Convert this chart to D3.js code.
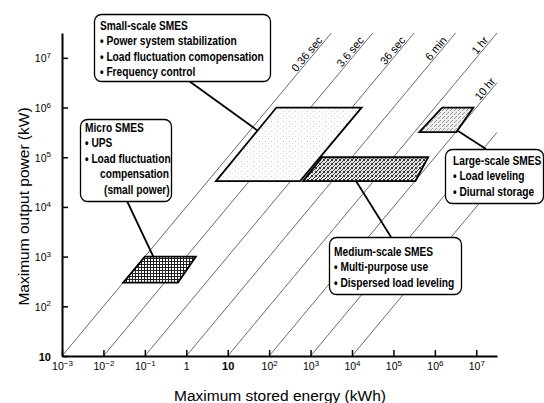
<!DOCTYPE html>
<html>
<head>
<meta charset="utf-8">
<script src="https://cdn.jsdelivr.net/npm/d3@7"></script>
<style>
  body { margin: 0; background: #fff; }
  svg { display: block; font-family: 'Liberation Sans', Arial, sans-serif; }
  .box-text { font-family: 'Liberation Sans', Arial, sans-serif; font-weight: bold; font-size: 12px; }
  .tick-label { font-size: 10.5px; }
</style>
</head>
<body>
<svg id="chart" width="544" height="403"></svg>
<script>
// axis ticks
const energyTicks = [1e-3, 1e-2, 1e-1, 1, 10, 1e2, 1e3, 1e4, 1e5, 1e6, 1e7];
const powerTicks = [10, 1e2, 1e3, 1e4, 1e5, 1e6, 1e7];

// constant discharge time lines (hours)
const dischargeHours = [1e-4, 1e-3, 1e-2, 1e-1, 1, 10, 100, 1000];
const dischargeLabels = ['0.36 sec', '3.6 sec', '36 sec', '6 min', '1 hr', '10 hr', '', ''];

// SMES application regions (kWh / kW corners)
const regionNames = ['micro', 'small', 'medium', 'large'];
const powerLow = [300, 3.3e4, 3.3e4, 3.2e5];
const powerHigh = [1e3, 1e6, 1e5, 1e6];
const energyBottomLeft = [0.03, 5.2, 660, 4.2e5];
const energyBottomRight = [0.63, 560, 3.4e5, 3.3e6];
const energyTopRight = [1.7, 1.7e4, 6.9e5, 8.5e6];
const energyTopLeft = [0.1, 150, 1900, 1.5e6];
const calloutEnergy = [0.16, 51, 1.26e4, 3.4e6];
const calloutPower = [1e3, 3.5e5, 3.3e4, 3.5e5];

const microText = ['Micro SMES', '\u2022 UPS', '\u2022 Load fluctuation', 'compensation', '(small power)'];
const smallText = ['Small-scale SMES', '\u2022 Power system stabilization', '\u2022 Load fluctuation comopensation', '\u2022 Frequency control'];
const mediumText = ['Medium-scale SMES', '\u2022 Multi-purpose use', '\u2022 Dispersed load leveling'];
const largeText = ['Large-scale SMES', '\u2022 Load leveling', '\u2022 Diurnal storage'];

const maxE = Math.pow(10, 7.5);
const maxP = Math.pow(10, 7.5);

const svg = d3.select('#chart');

const x = d3.scaleLog().domain([1e-3, maxE]).range([62, 497]);
const y = d3.scaleLog().domain([10, maxP]).range([356, 33]);

// fill patterns
const defs = svg.append('defs');

const grid = defs.append('pattern').attr('id', 'p-grid')
   .attr('patternUnits', 'userSpaceOnUse').attr('width', 3).attr('height', 3);
grid.append('rect').attr('width', 3).attr('height', 3).attr('fill', '#fff');
grid.append('path').attr('d', 'M0,0.5H3M0.5,0V3').attr('stroke', '#222').attr('stroke-width', 1);

const dense = defs.append('pattern').attr('id', 'p-dense')
   .attr('patternUnits', 'userSpaceOnUse').attr('width', 4).attr('height', 4);
dense.append('rect').attr('width', 4).attr('height', 4).attr('fill', '#e8e8e8');
[[0, 0], [2, 1], [1, 2], [3, 3], [3, 0], [0, 3]].forEach(p => {
   dense.append('rect').attr('x', p[0]).attr('y', p[1]).attr('width', 1).attr('height', 1).attr('fill', '#333');
});

const light = defs.append('pattern').attr('id', 'p-light')
   .attr('patternUnits', 'userSpaceOnUse').attr('width', 4).attr('height', 4);
light.append('rect').attr('width', 4).attr('height', 4).attr('fill', '#eee');
[[0, 0], [2, 2], [3, 1]].forEach(p => {
   light.append('rect').attr('x', p[0]).attr('y', p[1]).attr('width', 1).attr('height', 1).attr('fill', '#999');
});

const faint = defs.append('pattern').attr('id', 'p-faint')
   .attr('patternUnits', 'userSpaceOnUse').attr('width', 6).attr('height', 5);
faint.append('rect').attr('width', 6).attr('height', 5).attr('fill', '#fcfcfc');
faint.append('rect').attr('x', 1).attr('y', 1).attr('width', 1).attr('height', 1).attr('fill', '#ccc');
faint.append('rect').attr('x', 4).attr('y', 3).attr('width', 1).attr('height', 1).attr('fill', '#ddd');

const regionFill = { micro: 'url(#p-grid)', small: 'url(#p-faint)', medium: 'url(#p-dense)', large: 'url(#p-light)' };

// discharge time lines
const lines = dischargeHours.map((t, i) => {
   const e1 = Math.min(maxE, maxP * t);
   return { t: t, label: dischargeLabels[i], e0: 10 * t, p0: 10, e1: e1, p1: e1 / t };
});

svg.append('g')
   .selectAll('line')
   .data(lines)
   .enter()
   .append('line')
   .attr('x1', d => x(d.e0))
   .attr('y1', d => y(d.p0))
   .attr('x2', d => x(d.e1))
   .attr('y2', d => y(d.p1))
   .attr('stroke', '#444')
   .attr('stroke-width', 0.8);

const angle = Math.atan((y(10) - y(100)) / (x(10) - x(1))) * 180 / Math.PI;

svg.append('g')
   .selectAll('text')
   .data(lines.filter(d => d.label))
   .enter()
   .append('text')
   .attr('transform', d => {
       const p = Math.min(d.p1, Math.pow(10, 7.33));
       return `translate(${x(p * d.t)},${y(p)}) rotate(${-angle})`;
   })
   .attr('dy', -1.5)
   .attr('text-anchor', 'end')
   .attr('font-size', 11)
   .text(d => d.label);

// callout boxes
const boxLayout = {
   micro: { x: 80, y: 119, w: 91, h: 82, tx: 5, ty: 13, indent: [0, 0, 0, 15, 19], text: microText, end: [127, 201] },
   small: { x: 94, y: 14, w: 176, h: 67, tx: 6, ty: 16, indent: [0, 0, 0, 0], text: smallText, end: [189, 81] },
   medium: { x: 329, y: 237, w: 132, h: 57, tx: 5, ty: 19, indent: [0, 0, 0], text: mediumText, end: [391, 237] },
   large: { x: 445, y: 149, w: 98, h: 54, tx: 8, ty: 16, indent: [0, 0, 0], text: largeText, end: [486, 149] }
};

const regions = regionNames.map((name, i) => ({
   name: name,
   corners: [
       [x(energyBottomLeft[i]), y(powerLow[i])],
       [x(energyBottomRight[i]), y(powerLow[i])],
       [x(energyTopRight[i]), y(powerHigh[i])],
       [x(energyTopLeft[i]), y(powerHigh[i])]
   ],
   anchor: [x(calloutEnergy[i]), y(calloutPower[i])],
   box: boxLayout[name]
}));

svg.append('g')
   .selectAll('line')
   .data(regions)
   .enter()
   .append('line')
   .attr('x1', d => d.anchor[0])
   .attr('y1', d => d.anchor[1])
   .attr('x2', d => d.box.end[0])
   .attr('y2', d => d.box.end[1])
   .attr('stroke', '#000')
   .attr('stroke-width', 1.8);

svg.append('g')
   .selectAll('path')
   .data(regions)
   .enter()
   .append('path')
   .attr('d', d => d3.line().curve(d3.curveLinearClosed)(d.corners))
   .attr('fill', d => regionFill[d.name])
   .attr('stroke', '#000')
   .attr('stroke-width', 1.8)
   .attr('stroke-linejoin', 'miter');

const boxes = svg.append('g')
   .selectAll('g')
   .data(regions)
   .enter()
   .append('g')
   .attr('transform', d => `translate(${d.box.x},${d.box.y})`);

boxes.append('rect')
   .attr('x', 0.5)
   .attr('y', 0.5)
   .attr('width', d => d.box.w)
   .attr('height', d => d.box.h)
   .attr('rx', 7)
   .attr('fill', '#fff')
   .attr('stroke', '#000')
   .attr('stroke-width', 1.3);

// narrow bold look: squeeze the text horizontally
boxes.each(function(d) {
   d3.select(this)
     .selectAll('text')
     .data(d.box.text)
     .enter()
     .append('text')
     .attr('class', 'box-text')
     .attr('transform', (s, i) => `translate(${d.box.tx + d.box.indent[i]},${d.box.ty + i * 15.4}) scale(0.85,1)`)
     .text(s => s);
});

// axes
function tickText(sel, v) {
   const e = Math.round(Math.log10(v));
   if (e === 0) {
       sel.text('1');
   } else if (e === 1) {
       sel.append('tspan').attr('font-weight', 'bold').attr('font-size', 11).text('10');
   } else {
       sel.append('tspan').text('10');
       sel.append('tspan').attr('font-size', 8).attr('dy', -4.5).text(e < 0 ? '\u2212' + (-e) : e);
   }
}

const xAxis = d3.axisBottom(x)
                .tickValues(energyTicks)
                .tickSizeInner(-6)
                .tickSizeOuter(0)
                .tickFormat('');

const gx = svg.append('g')
   .attr('transform', `translate(0,${y(10)})`)
   .call(xAxis);
gx.select('.domain').attr('stroke-width', 2);
gx.selectAll('.tick line').attr('stroke-width', 1.5);
gx.selectAll('.tick').each(function(v) {
   const t = d3.select(this).append('text')
       .attr('class', 'tick-label')
       .attr('fill', '#000')
       .attr('y', 14)
       .attr('text-anchor', 'middle');
   tickText(t, v);
});

const yAxis = d3.axisLeft(y)
                .tickValues(powerTicks)
                .tickSizeInner(-6)
                .tickSizeOuter(0)
                .tickFormat('');

const gy = svg.append('g')
   .attr('transform', `translate(${x(1e-3)},0)`)
   .call(yAxis);
gy.select('.domain').attr('stroke-width', 2);
gy.selectAll('.tick line').attr('stroke-width', 1.5);
gy.selectAll('.tick').each(function(v) {
   const t = d3.select(this).append('text')
       .attr('class', 'tick-label')
       .attr('fill', '#000')
       .attr('x', -11)
       .attr('y', 4)
       .attr('text-anchor', 'end');
   tickText(t, v);
});

svg.append('text')
   .attr('x', 280)
   .attr('y', 401)
   .attr('text-anchor', 'middle')
   .attr('font-size', 15.5)
   .text('Maximum stored energy (kWh)');

svg.append('text')
   .attr('transform', `translate(29,${(y(10) + y(maxP)) / 2 + 12}) rotate(-90)`)
   .attr('text-anchor', 'middle')
   .attr('font-size', 15.5)
   .text('Maximum output power (kW)');
</script>
</body>
</html>
